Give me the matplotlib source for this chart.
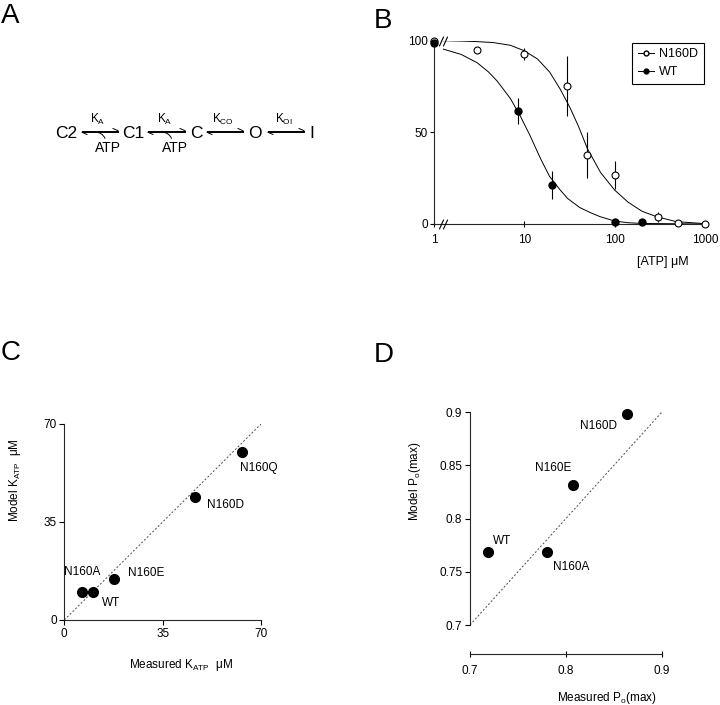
import matplotlib
matplotlib.use("Agg")
import matplotlib.pyplot as plt
from matplotlib.lines import Line2D
from matplotlib.patches import FancyArrowPatch

plt.rcParams["font.family"] = ["Liberation Sans", "DejaVu Sans"]
plt.rcParams["mathtext.default"] = "regular"

# ---- panel A: kinetic scheme ----
states = ["C2", "C1", "C", "O", "I"]
rate_labels = ["$K_{A}$", "$K_{A}$", "$K_{CO}$", "$K_{OI}$"]
atp_bound = [True, True, False, False]

# ---- panel B: [ATP] dose response ----
n160d_x = [1, 3, 10, 30, 50, 100, 300, 500, 1000]
n160d_y = [100, 94.8, 92.8, 75.2, 37.6, 26.7, 4.0, 0.7, 0]
n160d_err = [0, 0, 3.2, 16.4, 12.4, 7.7, 2.8, 0, 0]
wt_x = [1, 8.6, 20, 100, 200]
wt_y = [99, 61.7, 21.3, 1.3, 1.3]
wt_err = [0, 7.3, 7.6, 0, 0]
# model curves
n160d_fit_x = [1.27, 2, 3, 4.5, 7, 10, 14, 19, 25, 32, 40, 50, 70, 100, 140, 200, 290, 480, 1000]
n160d_fit_y = [100, 99.8, 99.5, 99, 97.5, 94.5, 90, 83, 73.5, 63.5, 53, 41, 28, 18.5, 12, 7, 4, 1.3, 0.2]
wt_fit_x = [1.27, 2, 3, 4, 5, 7, 9, 11.5, 15, 19, 25, 30, 41, 55, 69, 100, 140, 200, 1000]
wt_fit_y = [95.4, 92.5, 88, 83, 78, 68.5, 59, 48.5, 36, 26, 18.5, 14, 9, 6, 4, 1.6, 0.7, 0.3, 0]

# ---- panel C: K_ATP ----
c_labels = ["N160A", "WT", "N160E", "N160D", "N160Q"]
c_measured = [6.4, 10.3, 17.8, 46.5, 63.2]
c_model = [10.1, 10.1, 14.8, 44.1, 60.1]

# ---- panel D: Po(max) ----
d_labels = ["WT", "N160A", "N160E", "N160D"]
d_measured = [0.719, 0.780, 0.807, 0.864]
d_model = [0.769, 0.769, 0.832, 0.898]

W, H = 720, 705
fig = plt.figure(figsize=(7.2, 7.05), dpi=100)

# overlay in pixel coordinates for panel letters and the scheme
ax0 = fig.add_axes([0, 0, 1, 1], zorder=-1)
ax0.set_xlim(0, W)
ax0.set_ylim(H, 0)
ax0.axis("off")
for letter, (lx, ly) in zip("ABCD", [(1, 23), (374, 28), (1, 360), (374, 362)]):
    ax0.text(lx, ly, letter, fontsize=20, va="baseline", ha="left")

state_x = [66, 133.5, 196, 255, 311.5]
arrow_span = [(82, 118), (148, 185), (207, 243), (268, 304)]
ys = 131.5
for s, sx in zip(states, state_x):
    ax0.text(sx, 137.5, s, fontsize=12.5, ha="center", va="baseline")
for lab, (x1, x2), atp in zip(rate_labels, arrow_span, atp_bound):
    lw = 0.7
    # forward harpoon
    ax0.plot([x1, x2], [ys - 0.8, ys - 0.8], color="k", lw=lw)
    ax0.plot([x2 - 5, x2], [ys - 3, ys - 0.8], color="k", lw=lw)
    # backward harpoon
    ax0.plot([x1, x2], [ys + 0.8, ys + 0.8], color="k", lw=lw)
    ax0.plot([x1, x1 + 5], [ys + 0.8, ys + 3], color="k", lw=lw)
    ax0.text((x1 + x2) / 2 - 2, 122.7, lab, fontsize=8.5, ha="center", va="baseline")
    if atp:
        xm = (x1 + x2) / 2
        arc = FancyArrowPatch((xm - 8, ys + 1), (xm + 6, 141),
                              arrowstyle="-", connectionstyle="arc3,rad=-0.45",
                              color="k", lw=0.7, mutation_scale=5)
        ax0.add_patch(arc)
        ax0.text(xm + 8, 151.7, "ATP", fontsize=10, ha="center", va="baseline")


def px_axes(x0, x1, y_top, y_bot):
    return fig.add_axes([x0 / W, 1 - y_bot / H, (x1 - x0) / W, (y_bot - y_top) / H])


def clean(ax):
    for s in ("top", "right"):
        ax.spines[s].set_visible(False)
    for s in ("left", "bottom"):
        ax.spines[s].set_linewidth(0.8)
        ax.spines[s].set_color("0.15")
    ax.patch.set_alpha(0)


# ---- B ----
axb = px_axes(434, 705, 40.7, 224)
clean(axb)
axb.set_xscale("log")
axb.set_xlim(1, 1000)
axb.set_ylim(0, 100)
axb.plot(n160d_fit_x, n160d_fit_y, color="k", lw=0.7, zorder=2)
axb.plot(wt_fit_x, wt_fit_y, color="k", lw=0.7, zorder=2)
axb.errorbar(n160d_x, n160d_y, yerr=n160d_err, fmt="none", ecolor="k", elinewidth=0.8, capsize=0, zorder=3)
axb.errorbar(wt_x, wt_y, yerr=wt_err, fmt="none", ecolor="k", elinewidth=0.8, capsize=0, zorder=3)
axb.plot(n160d_x, n160d_y, "o", ms=5, mfc="white", mec="k", mew=0.8, clip_on=False, zorder=4)
axb.plot(wt_x, wt_y, "o", ms=5, mfc="k", mec="k", clip_on=False, zorder=5)
slash = [(-0.45, -1), (0.45, 1)]
for yb in (100, 0):
    axb.plot([1.2, 1.32], [yb, yb], linestyle="none", marker=slash, ms=7,
             mfc="none", mec="k", mew=0.8, clip_on=False, zorder=6)
axb.set_xticks([1, 10, 100, 1000])
axb.set_xticklabels(["1", "10", "100", "1000"])
axb.xaxis.set_minor_locator(matplotlib.ticker.NullLocator())
axb.set_yticks([0, 50, 100])
axb.tick_params(axis="y", direction="out", length=3, width=0.8, pad=1.5, labelsize=8.5)
axb.tick_params(axis="x", direction="inout", length=5, width=0.8, pad=5, labelsize=8.5)
axb.set_xlabel("[ATP] μM", fontsize=9)
axb.xaxis.set_label_coords(0.845, -0.175)
handles = [Line2D([], [], color="k", lw=0.7, marker="o", ms=3.5, mfc="white", mec="k"),
           Line2D([], [], color="k", lw=0.7, marker="o", ms=3.5, mfc="k", mec="k")]
leg = axb.legend(handles, ["N160D", "WT"], loc="upper left", bbox_to_anchor=(0.732, 0.99),
                 borderaxespad=0, fontsize=9, handlelength=1.3, handletextpad=0.4,
                 labelspacing=0.5, fancybox=False, edgecolor="k", framealpha=1,
                 borderpad=0.45)
leg.get_frame().set_linewidth(0.8)

# ---- C ----
axc = px_axes(64.3, 261, 424, 620)
clean(axc)
axc.set_xlim(0, 70)
axc.set_ylim(0, 70)
axc.plot([0, 70], [0, 70], linestyle=(0, (2, 2)), color="0.3", lw=0.7)
axc.plot(c_measured, c_model, "o", ms=7, color="k", clip_on=False)
c_offsets = [(-0.2, 14.5, "center"), (6.5, -8, "left"), (10, 4.3, "left"),
             (8.6, -6.1, "left"), (-1.4, -11.5, "left")]
for lab, x, y, (dx, dy, ha) in zip(c_labels, c_measured, c_model, c_offsets):
    axc.annotate(lab, (x, y), xytext=(dx, dy), textcoords="offset points",
                 fontsize=8.5, ha=ha, va="center")
axc.set_xticks([0, 35, 70])
axc.set_yticks([0, 35, 70])
axc.tick_params(direction="out", length=3.5, width=0.8, pad=2, labelsize=8.5)
axc.set_ylabel("Model $K_{ATP}$  μM", fontsize=8.5)
axc.yaxis.set_label_coords(-0.21, 0.714)
axc.set_xlabel("Measured $K_{ATP}$  μM", fontsize=8.5)
axc.xaxis.set_label_coords(0.593, -0.189)

# ---- D ----
axd = px_axes(470, 661.7, 412.3, 625)
clean(axd)
axd.set_xlim(0.7, 0.9)
axd.set_ylim(0.7, 0.9)
axd.spines["bottom"].set_position(("outward", 21))
axd.plot([0.7, 0.9], [0.7, 0.9], linestyle=(0, (2, 2)), color="0.3", lw=0.7)
axd.plot(d_measured, d_model, "o", ms=7, color="k", clip_on=False)
d_offsets = [(3.6, 7.6, "left"), (4.3, -10.8, "left"), (-1.2, 12, "right"), (-7.2, -8.4, "right")]
for lab, x, y, (dx, dy, ha) in zip(d_labels, d_measured, d_model, d_offsets):
    axd.annotate(lab, (x, y), xytext=(dx, dy), textcoords="offset points",
                 fontsize=8.5, ha=ha, va="center")
axd.set_xticks([0.7, 0.8, 0.9])
axd.set_xticklabels(["0.7", "0.8", "0.9"])
axd.set_yticks([0.7, 0.75, 0.8, 0.85, 0.9])
axd.set_yticklabels(["0.7", "0.75", "0.8", "0.85", "0.9"])
axd.tick_params(axis="y", direction="out", length=3.5, width=0.8, pad=2, labelsize=8.5)
axd.tick_params(axis="x", direction="inout", length=5, width=0.8, pad=5, labelsize=8.5)
axd.set_ylabel("Model $P_{o}$(max)", fontsize=8.5)
axd.yaxis.set_label_coords(-0.245, 0.675)
axd.set_xlabel("Measured $P_{o}$(max)", fontsize=8.5)
axd.xaxis.set_label_coords(0.715, -0.305)

fig.savefig("out.png", dpi=100)
